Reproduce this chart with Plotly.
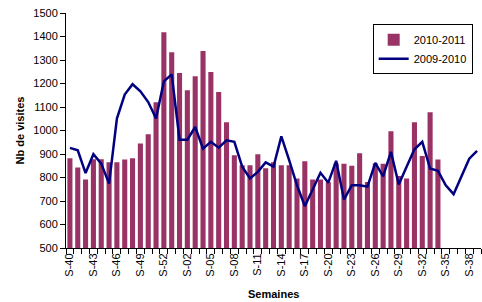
import plotly.graph_objects as go

weeks = ["S-40", "S-41", "S-42", "S-43", "S-44", "S-45", "S-46", "S-47", "S-48", "S-49",
         "S-50", "S-51", "S-52", "S-53", "S-01", "S-02", "S-03", "S-04", "S-05", "S-06",
         "S-07", "S-08", "S-09", "S-10", "S-11", "S-12", "S-13", "S-14", "S-15", "S-16",
         "S-17", "S-18", "S-19", "S-20", "S-21", "S-22", "S-23", "S-24", "S-25", "S-26",
         "S-27", "S-28", "S-29", "S-30", "S-31", "S-32", "S-33", "S-34", "S-35", "S-36",
         "S-37", "S-38", "S-39"]

visits_2010_2011 = [882, 843, 792, 878, 878, 865, 865, 877, 882, 945,
                    984, 1120, 1418, 1333, 1245, 1171, 1231, 1338, 1249, 1164,
                    1035, 895, 852, 852, 899, 839, 865, 852, 852, 796,
                    869, 792, 792, 780, 860, 858, 850, 903, 781, 860,
                    858, 997, 806, 796, 1035, 892, 1078, 877, None, None,
                    None, None, None]

visits_2009_2010 = [926, 916, 819, 899, 859, 774, 1051, 1153, 1197, 1167,
                    1121, 1051, 1209, 1239, 961, 961, 1015, 923, 952, 927,
                    958, 952, 846, 796, 824, 864, 846, 975, 874, 767,
                    678, 746, 820, 778, 871, 706, 767, 767, 761, 862,
                    805, 909, 770, 846, 920, 952, 838, 828, 767, 729,
                    808, 880, 913]

tick_text = [w if i % 3 == 0 else "" for i, w in enumerate(weeks)]

FONT = "Liberation Sans, Arial, sans-serif"

fig = go.Figure()
fig.add_trace(go.Bar(x=weeks, y=visits_2010_2011, name="2010-2011",
                     marker=dict(color="#993366", line=dict(width=0))))
fig.add_trace(go.Scatter(x=weeks, y=visits_2009_2010, name="2009-2010", mode="lines",
                         line=dict(color="#000080", width=2.5)))

fig.update_layout(
    width=482, height=302,
    margin=dict(l=66, r=1, t=13, b=54),
    paper_bgcolor="white", plot_bgcolor="white",
    font=dict(family=FONT, size=11, color="black"),
    bargap=0.35,
    showlegend=True,
    legend=dict(x=0.739, y=0.952, xanchor="left", yanchor="top",
                bordercolor="black", borderwidth=1, bgcolor="white",
                font=dict(size=11), tracegroupgap=2),
    xaxis=dict(type="category", categoryorder="array", categoryarray=weeks,
               tickmode="array", tickvals=weeks, ticktext=tick_text,
               tickangle=-90, ticks="outside", ticklen=5, tickcolor="black",
               tickson="boundaries", showline=True, linecolor="black", linewidth=1,
               showgrid=False, range=[-0.5, 52.5], tickfont=dict(size=11)),
    yaxis=dict(range=[500, 1500], dtick=100, tick0=500, ticks="outside", ticklen=5,
               tickcolor="black", showline=True, linecolor="black", linewidth=1,
               showgrid=False, zeroline=False, tickfont=dict(size=11)),
    annotations=[
        dict(text="<b>Semaines</b>", xref="paper", yref="paper", x=0.5, y=-0.196,
             xanchor="center", yanchor="middle", showarrow=False, font=dict(size=11)),
        dict(text="<b>Nb de visites</b>", xref="paper", yref="paper", x=-0.111, y=0.5,
             xanchor="center", yanchor="middle", textangle=-90, showarrow=False,
             font=dict(size=11)),
    ],
)

fig.write_html("out.html", config={"displayModeBar": False})

with open("out.html", "r", encoding="utf-8") as f:
    html = f.read()
html = html.replace("<head>", "<head><style>html,body{margin:0;padding:0;overflow:hidden;}</style>", 1)
with open("out.html", "w", encoding="utf-8") as f:
    f.write(html)
